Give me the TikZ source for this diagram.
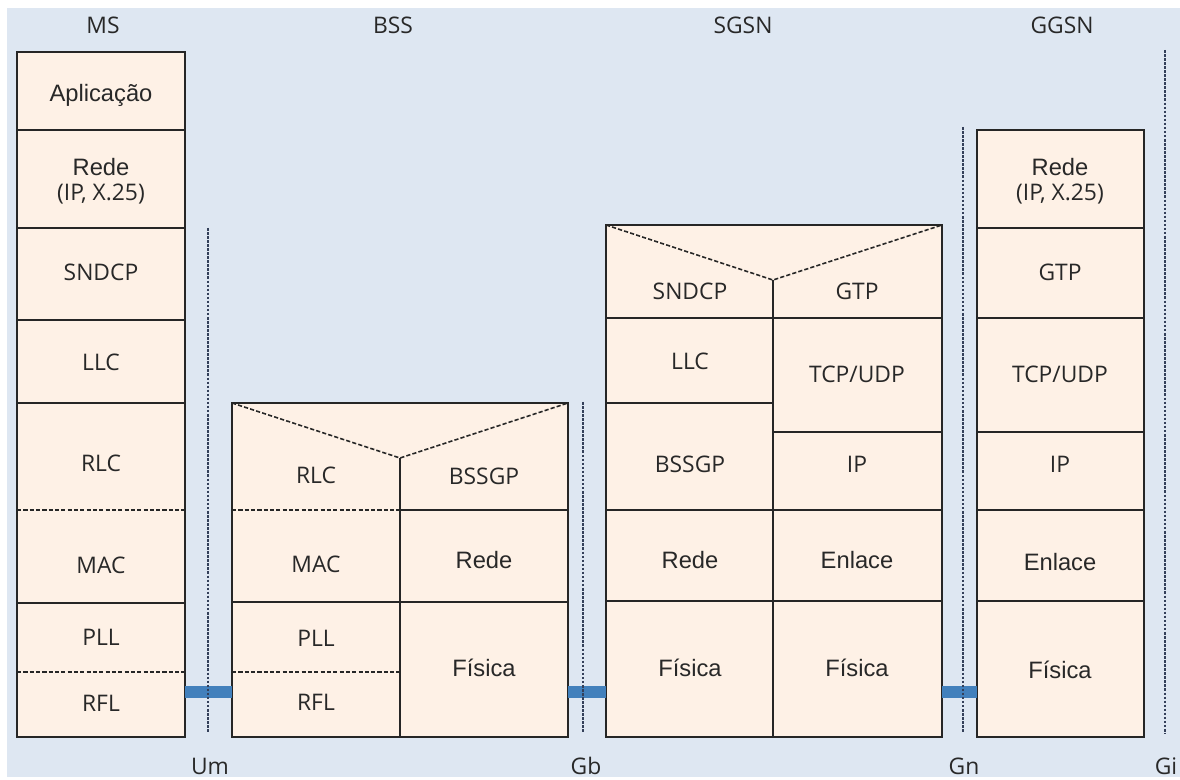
\documentclass[tikz,border=0pt]{standalone}
\usepackage{fontspec}
\usepackage{tikz}
\usetikzlibrary{positioning}

\newfontfamily\acrfont{Open Sans}
\newfontfamily\wordfont{Liberation Sans}

\definecolor{bgblue}{RGB}{222,231,242}
\definecolor{cellfill}{RGB}{254,241,230}
\definecolor{linkblue}{RGB}{66,128,188}
\definecolor{ifacegray}{RGB}{52,64,90}
\definecolor{txtgray}{RGB}{40,40,40}

\begin{document}
\begin{tikzpicture}[x=0.02cm, y=-0.02cm,
    stack/.style={fill=cellfill, draw=black!85, line width=1pt},
    sep/.style={draw=black!85, line width=1pt},
    softsep/.style={draw=black!85, line width=0.9pt, dash pattern=on 2.4pt off 1.2pt},
    iface/.style={draw=ifacegray, line width=1.3pt, dash pattern=on 1.5pt off 0.8pt},
    link/.style={draw=linkblue, line width=0.24cm},
    acr/.style={font=\acrfont\fontsize{13}{15}\selectfont, text=txtgray, align=center},
    wrd/.style={font=\wordfont\fontsize{13.5}{15}\selectfont, text=txtgray, align=center}]

    \useasboundingbox (0,0) rectangle (1180,780);
    \fill[bgblue] (7,8) rectangle (1180,777);

    % node titles
    \node[acr] (ms)   at (103,25)  {MS};
    \node[acr] (bss)  at (393,25)  {BSS};
    \node[acr] (sgsn) at (743,25)  {SGSN};
    \node[acr] (ggsn) at (1062,25) {GGSN};

    % MS stack
    \draw[stack] (17,52) rectangle (185,737);
    \foreach \y in {130,228,320,403,603}
        \draw[sep] (17,\y) -- (185,\y);
    \foreach \y in {510,672}
        \draw[softsep] (17,\y) -- (185,\y);
    \node[wrd] (ms-app) at (101,95) {Aplicação};
    \node[wrd] (ms-net) at (101,181) {Rede\\[-1pt]{\acrfont\fontsize{13}{15}\selectfont (IP, X.25)}};
    \node[acr] (ms-sndcp) at (101,272) {SNDCP};
    \node[acr] (ms-llc)   at (101,362) {LLC};
    \node[acr] (ms-rlc)   at (101,463) {RLC};
    \node[acr] (ms-mac)   at (101,565) {MAC};
    \node[acr] (ms-pll)   at (101,637) {PLL};
    \node[acr] (ms-rfl)   at (101,703) {RFL};

    % BSS stack
    \draw[stack] (232,403) rectangle (568,737);
    \draw[softsep] (232,403) -- (400,458) -- (568,403);
    \draw[sep] (400,458) -- (400,737);
    \draw[softsep] (232,510) -- (400,510);
    \draw[sep] (400,510) -- (568,510);
    \draw[sep] (232,602) -- (568,602);
    \draw[softsep] (232,672) -- (400,672);
    \node[acr] (bss-rlc)   at (316,475) {RLC};
    \node[acr] (bss-mac)   at (316,564) {MAC};
    \node[acr] (bss-pll)   at (316,638) {PLL};
    \node[acr] (bss-rfl)   at (316,702) {RFL};
    \node[acr] (bss-bssgp) at (484,476) {BSSGP};
    \node[wrd] (bss-net)   at (484,560) {Rede};
    \node[wrd] (bss-phy)   at (484,668) {Física};

    % SGSN stack
    \draw[stack] (606,225) rectangle (942,737);
    \draw[softsep] (606,225) -- (773,280) -- (942,225);
    \draw[sep] (773,280) -- (773,737);
    \draw[sep] (606,318) -- (942,318);
    \draw[sep] (606,403) -- (773,403);
    \draw[sep] (773,432) -- (942,432);
    \draw[sep] (606,510) -- (942,510);
    \draw[sep] (606,601) -- (942,601);
    \node[acr] (sgsn-sndcp) at (690,291) {SNDCP};
    \node[acr] (sgsn-llc)   at (690,361) {LLC};
    \node[acr] (sgsn-bssgp) at (690,464) {BSSGP};
    \node[wrd] (sgsn-net)   at (690,560) {Rede};
    \node[wrd] (sgsn-phy)   at (690,668) {Física};
    \node[acr] (sgsn-gtp)   at (857,291) {GTP};
    \node[acr] (sgsn-tcp)   at (857,374) {TCP/UDP};
    \node[acr] (sgsn-ip)    at (857,464) {IP};
    \node[wrd] (sgsn-link)  at (857,560) {Enlace};
    \node[wrd] (sgsn-phy2)  at (857,668) {Física};

    % GGSN stack
    \draw[stack] (977,130) rectangle (1144,737);
    \foreach \y in {228,318,432,510,601}
        \draw[sep] (977,\y) -- (1144,\y);
    \node[wrd] (ggsn-net)  at (1060,181) {Rede\\[-1pt]{\acrfont\fontsize{13}{15}\selectfont (IP, X.25)}};
    \node[acr] (ggsn-gtp)  at (1060,272) {GTP};
    \node[acr] (ggsn-tcp)  at (1060,374) {TCP/UDP};
    \node[acr] (ggsn-ip)   at (1060,464) {IP};
    \node[wrd] (ggsn-link) at (1060,562) {Enlace};
    \node[wrd] (ggsn-phy)  at (1060,670) {Física};

    % physical links between stacks
    \coordinate (ms-tx)   at (185,692);  \coordinate (bss-rx)  at (232,692);
    \coordinate (bss-tx)  at (568,692);  \coordinate (sgsn-rx) at (606,692);
    \coordinate (sgsn-tx) at (942,692);  \coordinate (ggsn-rx) at (977,692);
    \draw[link] (ms-tx) -- (bss-rx);
    \draw[link] (bss-tx) -- (sgsn-rx);
    \draw[link] (sgsn-tx) -- (ggsn-rx);

    % interfaces
    \coordinate (um-top) at (208,228);  \coordinate (um-bot) at (208,733);
    \coordinate (gb-top) at (583,402);  \coordinate (gb-bot) at (583,733);
    \coordinate (gn-top) at (963,127);  \coordinate (gn-bot) at (963,733);
    \coordinate (gi-top) at (1165,50);  \coordinate (gi-bot) at (1165,733);
    \draw[iface] (um-top) -- (um-bot);
    \draw[iface] (gb-top) -- (gb-bot);
    \draw[iface] (gn-top) -- (gn-bot);
    \draw[iface] (gi-top) -- (gi-bot);
    \node[acr] (um) at (210,766)  {Um};
    \node[acr] (gb) at (586,766)  {Gb};
    \node[acr] (gn) at (964,766)  {Gn};
    \node[acr] (gi) at (1166,766) {Gi};
\end{tikzpicture}
\end{document}
